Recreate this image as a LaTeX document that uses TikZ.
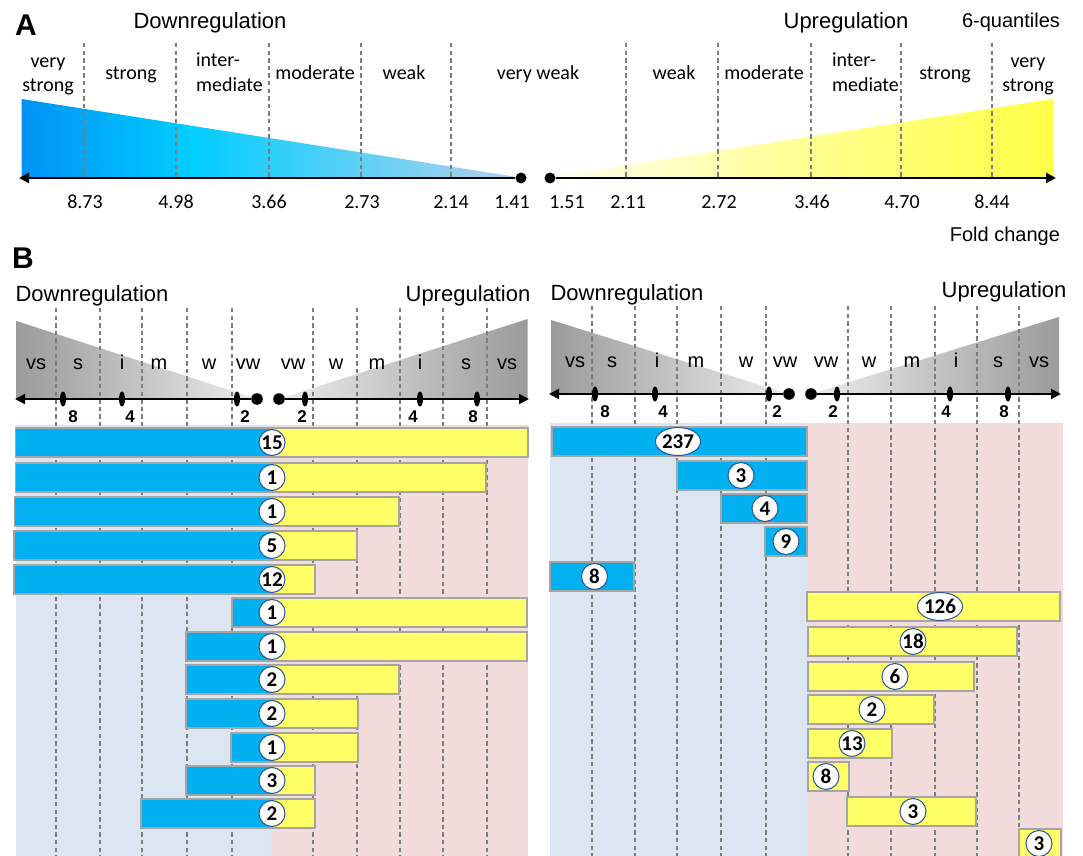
\documentclass[tikz,border=0pt]{standalone}
\usepackage{fontspec}
\setmainfont{Liberation Sans}
\newfontfamily\calfont{Carlito}
\usetikzlibrary{arrows.meta,shapes.geometric}
\definecolor{barblue}{RGB}{0,176,240}
\definecolor{baryel}{RGB}{255,255,102}
\definecolor{bgblue}{RGB}{220,230,242}
\definecolor{bgpink}{RGB}{242,220,219}
\definecolor{dashgrey}{RGB}{125,125,125}
\definecolor{bargrey}{RGB}{165,165,165}
\definecolor{circblue}{RGB}{47,85,151}
\definecolor{blAa}{RGB}{0,146,245}
\definecolor{blAb}{RGB}{0,205,255}
\definecolor{blAc}{RGB}{180,210,236}
\definecolor{yeAa}{RGB}{255,255,238}
\definecolor{yeAb}{RGB}{255,255,130}
\definecolor{yeAc}{RGB}{255,255,70}
\definecolor{grdark}{RGB}{155,155,155}
\definecolor{grlight}{RGB}{236,236,236}
\pgfdeclarehorizontalshading{blueA}{100bp}{color(0bp)=(blAa); color(25bp)=(blAa); color(42bp)=(blAb); color(75bp)=(blAc); color(100bp)=(blAc)}
\pgfdeclarehorizontalshading{yelA}{100bp}{color(0bp)=(yeAa); color(25bp)=(yeAa); color(55bp)=(yeAb); color(75bp)=(yeAc); color(100bp)=(yeAc)}
\begin{document}
\begin{tikzpicture}[x=0.5pt,y=-0.5pt,
  dashln/.style={draw=dashgrey,line width=0.65pt,dash pattern=on 2.2pt off 1.6pt},
  axA/.style={draw=black,line width=1.2pt,-{Triangle[length=5pt,width=5pt]}},
  axB/.style={draw=black,line width=1pt,-{Triangle[length=5pt,width=5pt]}},
  dotA/.style={circle,fill=black,inner sep=0pt,minimum size=5.5pt},
  dotB/.style={circle,fill=black,inner sep=0pt,minimum size=5.8pt},
  tickn/.style={ellipse,fill=black,inner sep=0pt,minimum width=3pt,minimum height=7.5pt},
  panl/.style={font=\bfseries\fontsize{15}{15}\selectfont},
  hdr/.style={font=\fontsize{11}{13}\selectfont,anchor=base},
  small/.style={font=\fontsize{10}{12}\selectfont},
  lbl/.style={font=\calfont\fontsize{10}{12}\selectfont,anchor=base},
  numA/.style={font=\calfont\fontsize{10}{12}\selectfont},
  cls/.style={font=\fontsize{10}{12}\selectfont,anchor=base},
  tnum/.style={font=\bfseries\fontsize{8.5}{10}\selectfont},
  bbar/.style={fill=barblue,draw=bargrey,line width=0.8pt},
  ybar/.style={fill=baryel,draw=bargrey,line width=0.8pt},
  cnum/.style={circle,fill=white,draw=circblue,line width=0.5pt,minimum size=13pt,inner sep=0pt,font=\calfont\bfseries\fontsize{10.5}{11}\selectfont},
  enum/.style={ellipse,fill=white,draw=circblue,line width=0.5pt,minimum width=21pt,minimum height=14pt,inner sep=0pt,font=\calfont\bfseries\fontsize{10.5}{11}\selectfont}
]
\clip (0,0) rectangle (1083,856);
\fill[white] (0,0) rectangle (1083,856);

% ---------------- Panel A ----------------
\node[panl] (labA) at (26,25) {A};
\node[hdr] (downA) at (210,29) {Downregulation};
\node[hdr] (upA) at (846,29) {Upregulation};
\node[small,anchor=base east] (q6) at (1067,28) {6-quantiles};

\shade[shading=blueA] (21.5,99) -- (517,177) -- (21.5,177) -- cycle;
\shade[shading=yelA] (550,177) -- (1053,99) -- (1053,177) -- cycle;

\foreach \x in {84,176,269,361,451,626,718,811,901,992}
  \draw[dashln] (\x,43) -- (\x,177);

\node[dotA] (dA1) at (521,178) {};
\node[dotA] (dA2) at (550,178) {};
\coordinate (aAL) at (19,178);
\coordinate (aAR) at (1056,178);
\draw[axA] (dA1) -- (aAL);
\draw[axA] (dA2) -- (aAR);

\node[lbl] (cA1a) at (48,68) {very};
\node[lbl] (cA1b) at (48,92) {strong};
\node[lbl] (cA2) at (131,80) {strong};
\node[lbl,anchor=base west] (cA3a) at (189,67) {inter-};
\node[lbl,anchor=base west] (cA3b) at (189,92) {mediate};
\node[lbl] (cA4) at (315,80) {moderate};
\node[lbl] (cA5) at (404,80) {weak};
\node[lbl] (cA6) at (538,80) {very weak};
\node[lbl] (cA7) at (674,80) {weak};
\node[lbl] (cA8) at (764,80) {moderate};
\node[lbl,anchor=base west] (cA9a) at (825,67) {inter-};
\node[lbl,anchor=base west] (cA9b) at (825,92) {mediate};
\node[lbl] (cA10) at (945,80) {strong};
\node[lbl] (cA11a) at (1028,68) {very};
\node[lbl] (cA11b) at (1028,92) {strong};

\foreach \x/\t [count=\i] in {85/8.73,176/4.98,269/3.66,362/2.73,451/2.14,512/1.41,567/1.51,628/2.11,719/2.72,812/3.46,902/4.70,992/8.44}
  \node[numA] (nA\i) at (\x,202) {\t};

\node[small,anchor=base east] (fc) at (1067,242) {Fold change};

% ---------------- Panel B ----------------
\node[panl] (labB) at (23,258) {B};
\node[hdr] (downB1) at (92,301) {Downregulation};
\node[hdr] (upB1) at (468,301) {Upregulation};
\node[hdr] (downB2) at (627,300) {Downregulation};
\node[hdr] (upB2) at (1004,298) {Upregulation};

% grey triangles
\shade[left color=grdark,right color=grlight] (16.5,321) -- (257,399) -- (16.5,399) -- cycle;
\shade[left color=grlight,right color=grdark] (279,399) -- (527.5,319) -- (527.5,399) -- cycle;
\shade[left color=grdark,right color=grlight] (551,320) -- (789,394) -- (551,394) -- cycle;
\shade[left color=grlight,right color=grdark] (811,394) -- (1059,317) -- (1059,394) -- cycle;

% backgrounds
\fill[bgblue] (15.5,425) rectangle (271,856);
\fill[bgpink] (271,425) rectangle (528,856);
\fill[bgblue] (550,423) rectangle (807,856);
\fill[bgpink] (807,423) rectangle (1063,856);

% dashed lines
\foreach \x in {56,100,142,187,232,313,357,400,443,487}
  \draw[dashln] (\x,308) -- (\x,856);
\foreach \x in {592,635,677,721,766,848,891,935,977,1019}
  \draw[dashln] (\x,306) -- (\x,856);

% class labels
\foreach \x/\t [count=\i] in {36/vs,78/s,122/i,159/m,209/w,248/vw,293/vw,336/w,377/m,420/i,466/s,507/vs}
  \node[cls] (kL\i) at (\x,369) {\t};
\foreach \x/\t [count=\i] in {575/vs,612/s,657/i,696/m,746/w,785/vw,826/vw,869/w,912/m,956/i,998/s,1039/vs}
  \node[cls] (kR\i) at (\x,367) {\t};

% axes
\node[dotB] (dB1) at (257,399) {};
\node[dotB] (dB2) at (279,399) {};
\coordinate (aBL) at (15,399);
\coordinate (aBR) at (529,399);
\draw[axB] (dB1) -- (aBL);
\draw[axB] (dB2) -- (aBR);
\foreach \x [count=\i] in {63,122,237,305,420,477}
  \node[tickn] (tL\i) at (\x,399) {};
\foreach \x/\t [count=\i] in {73/8,130/4,245/2,302/2,413/4,473/8}
  \node[tnum] (tnL\i) at (\x,417) {\t};

\node[dotB] (dB3) at (789,394) {};
\node[dotB] (dB4) at (811,394) {};
\coordinate (aBL2) at (549,394);
\coordinate (aBR2) at (1061,394);
\draw[axB] (dB3) -- (aBL2);
\draw[axB] (dB4) -- (aBR2);
\foreach \x [count=\i] in {595,655,769,837,950,1008}
  \node[tickn] (tR\i) at (\x,394) {};
\foreach \x/\t [count=\i] in {605/8,663/4,777/2,833/2,946/4,1004/8}
  \node[tnum] (tnR\i) at (\x,412) {\t};

% left bars
\foreach \yt/\xb/\xy/\n [count=\i] in {428/15.5/528/15,463/15.5/486/1,497/14.5/399/1,531/14/357/5,565/14/315/12,598/232/527/1,632/186/527/1,665/186/399/2,699/186/358/2,733/231/358/1,766/186/315/3,799/141/315/2}{
  \draw[bbar] (\xb,\yt) rectangle (271,\yt+29);
  \draw[ybar] (271,\yt) rectangle (\xy,\yt+29);
  \node[cnum] (cL\i) at (272,\yt+14.5) {\n};
}

% right bars
\foreach \yt/\xa/\xb/\st [count=\i] in {427/552/807/bbar,461/677/807/bbar,494/721/807/bbar,527/765/807/bbar,562/550/634/bbar,592/807/1060/ybar,627/808/1017/ybar,662/808/974/ybar,695/808/934/ybar,729/808/892/ybar,762/808/849/ybar,797/847/976/ybar,829/1019/1061/ybar}{
  \draw[\st] (\xa,\yt) rectangle (\xb,\yt+29);
}
\node[enum] (cR1) at (678,441.5) {237};
\node[cnum] (cR2) at (741,475.5) {3};
\node[cnum] (cR3) at (765,508.5) {4};
\node[cnum] (cR4) at (786,541.5) {9};
\node[cnum] (cR5) at (594.5,576.5) {8};
\node[enum] (cR6) at (940,606.5) {126};
\node[cnum] (cR7) at (913,641.5) {18};
\node[cnum] (cR8) at (895,676.5) {6};
\node[cnum] (cR9) at (872,709.5) {2};
\node[cnum] (cR10) at (852,743.5) {13};
\node[cnum] (cR11) at (826,776.5) {8};
\node[cnum] (cR12) at (913,811.5) {3};
\node[cnum] (cR13) at (1039,843.5) {3};
\end{tikzpicture}
\end{document}
